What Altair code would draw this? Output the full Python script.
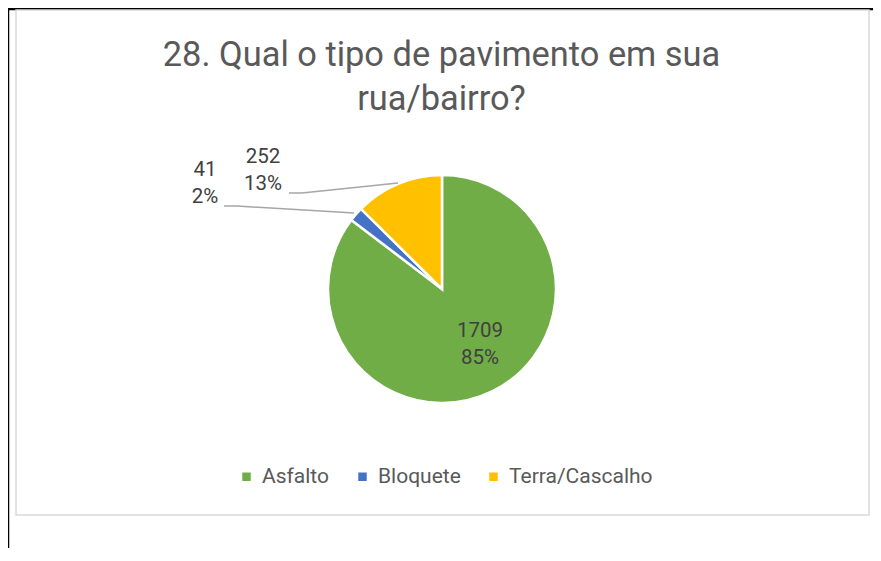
import altair as alt
import pandas as pd

# ---- data ----
categories = ["Asfalto", "Bloquete", "Terra/Cascalho"]
counts = [1709, 41, 252]
colors = ["#70AD47", "#4472C4", "#FFC000"]
title_lines = ["28. Qual o tipo de pavimento em sua", "rua/bairro?"]

total = sum(counts)
labels = [f"{c}\n{round(c / total * 100)}%" for c in counts]
df = pd.DataFrame({"cat": categories, "count": counts, "idx": list(range(len(categories))), "label": labels})

FONT = "Roboto"
TXT = "#595959"
LBL = "#404040"
CX, CY, R = 434, 281, 114

one = pd.DataFrame({"k": [0]})

# frame / chart-area decorations
frame_top = alt.Chart(one).mark_rule(color="black", strokeWidth=2.5).encode(
    x=alt.value(0), x2=alt.value(865), y=alt.value(1), y2=alt.value(1))
frame_left = alt.Chart(one).mark_rule(color="black", strokeWidth=2.5).encode(
    x=alt.value(0), x2=alt.value(0), y=alt.value(0), y2=alt.value(540))
area = alt.Chart(one).mark_rect(fill="white", stroke="#D9D9D9", strokeWidth=1.5).encode(
    x=alt.value(8), x2=alt.value(861), y=alt.value(2), y2=alt.value(507))

title1 = alt.Chart(one).mark_text(font=FONT, fontSize=34.4, color=TXT, baseline="alphabetic", align="center",
                                  text=title_lines[0]).encode(x=alt.value(433.5), y=alt.value(58))
title2 = alt.Chart(one).mark_text(font=FONT, fontSize=34.4, color=TXT, baseline="alphabetic", align="center",
                                  text=title_lines[1]).encode(x=alt.value(433.5), y=alt.value(102))

color = alt.Color("cat:N", scale=alt.Scale(domain=categories, range=colors),
                  legend=alt.Legend(title=None, orient="none", direction="horizontal",
                                    legendX=228, legendY=458, symbolType="square", symbolSize=72,
                                    symbolStrokeWidth=0, labelFont=FONT, labelFontSize=21,
                                    labelColor=TXT, labelOffset=5, columnPadding=22))

base = alt.Chart(df)
theta = alt.Theta("count:Q", stack=True)
order = alt.Order("idx:Q", sort="ascending")

pie = base.mark_arc(outerRadius=R, stroke="white", strokeWidth=2.5).encode(
    theta=theta, color=color, order=order, x=alt.value(CX), y=alt.value(CY))

txt = dict(font=FONT, fontSize=20.5, color=LBL, lineBreak="\n", lineHeight=27, align="center")
inside = base.transform_filter(alt.datum.cat == "Asfalto").mark_text(**txt).encode(
    text="label:N", x=alt.value(472), y=alt.value(323))
lbl_blue = base.transform_filter(alt.datum.cat == "Bloquete").mark_text(**txt).encode(
    text="label:N", x=alt.value(197), y=alt.value(162))
lbl_yel = base.transform_filter(alt.datum.cat == "Terra/Cascalho").mark_text(**txt).encode(
    text="label:N", x=alt.value(255), y=alt.value(149))

lead = dict(color="#A6A6A6", strokeWidth=1.5)
lines = [
    ((216, 198), (229, 198)), ((229, 198), (346, 205)),
    ((281, 185), (294, 185)), ((294, 185), (390, 175)),
]
leaders = [alt.Chart(one).mark_rule(**lead).encode(
    x=alt.value(a[0]), y=alt.value(a[1]), x2=alt.value(b[0]), y2=alt.value(b[1])) for a, b in lines]

chart = alt.layer(frame_top, frame_left, area, title1, title2, pie, inside, lbl_blue, lbl_yel, *leaders).properties(
    width=865, height=540, padding=0, autosize=alt.AutoSizeParams(type="none")
).configure_view(stroke=None)

chart.save("out.html", embed_options={"renderer": "svg", "actions": False})
